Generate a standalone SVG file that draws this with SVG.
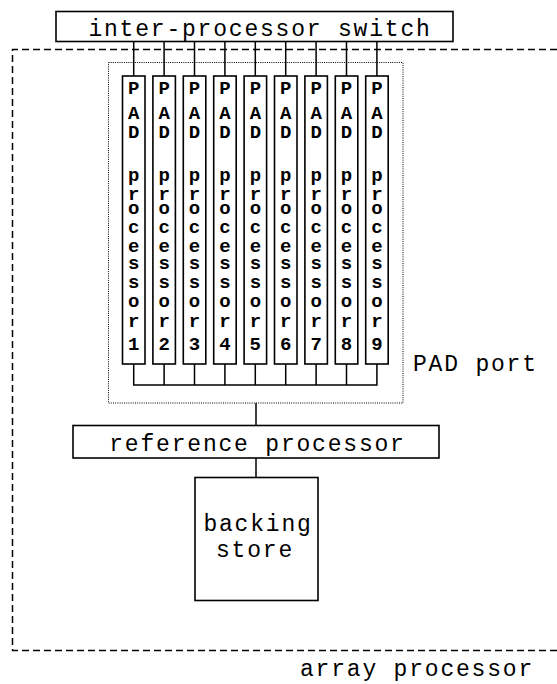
<svg xmlns="http://www.w3.org/2000/svg" width="557" height="684" viewBox="0 0 557 684">
  <style>
    .box { fill: #fff; stroke: #000; stroke-width: 1.6; }
    .wire { fill: none; stroke: #000; stroke-width: 1.5; }
    .frame { fill: none; stroke: #000; stroke-width: 1.5; stroke-dasharray: 7 4; }
    .port { fill: none; stroke: #000; stroke-width: 1; stroke-dasharray: 1 1.2; }
    .lbl { font-family: "Liberation Mono", "DejaVu Sans Mono", monospace; font-size: 23px; letter-spacing: 1.8px; fill: #000; }
    .col { font-family: "Liberation Mono", "DejaVu Sans Mono", monospace; font-size: 19px; font-weight: bold; fill: #000; text-anchor: middle; }
    .mid { text-anchor: middle; }
  </style>
  <defs>
    <!-- one PAD processor column, origin at its top-left corner -->
    <g id="padcol">
      <rect class="box" x="0" y="0" width="22.5" height="288"/>
      <text class="col" x="11.25" y="18">P</text>
      <text class="col" x="11.25" y="43">A</text>
      <text class="col" x="11.25" y="62">D</text>
      <text class="col" x="11.25" y="105">p</text>
      <text class="col" x="11.25" y="124">r</text>
      <text class="col" x="11.25" y="138">o</text>
      <text class="col" x="11.25" y="157">c</text>
      <text class="col" x="11.25" y="176">e</text>
      <text class="col" x="11.25" y="193">s</text>
      <text class="col" x="11.25" y="212">s</text>
      <text class="col" x="11.25" y="231">o</text>
      <text class="col" x="11.25" y="251">r</text>
    </g>
  </defs>

  <!-- array processor boundary (open on the right) -->
  <g id="array-processor">
    <path class="frame" d="M557 49.5 H12.5 V650.5 H557"/>
    <text class="lbl" x="300" y="676">array processor</text>
  </g>

  <!-- PAD port boundary -->
  <g id="pad-port">
    <rect class="port" x="108.5" y="62.5" width="294.5" height="340.5"/>
    <text class="lbl" x="413" y="371">PAD port</text>
  </g>

  <!-- connectors -->
  <g id="connectors">
    <path class="wire" d="M133.7 41.5 V76 M164.1 41.5 V76 M194.5 41.5 V76 M224.9 41.5 V76 M255.3 41.5 V76 M285.7 41.5 V76 M316.1 41.5 V76 M346.5 41.5 V76 M376.9 41.5 V76"/>
    <path class="wire" d="M133.7 364 V385 M164.1 364 V385 M194.5 364 V385 M224.9 364 V385 M255.3 364 V385 M285.7 364 V385 M316.1 364 V385 M346.5 364 V385 M376.9 364 V385 M133 385 H377.6"/>
    <path class="wire" d="M256 403 V425.5"/>
    <path class="wire" d="M256 458 V477.5"/>
  </g>

  <g id="switch">
    <rect class="box" x="56" y="11.5" width="397" height="30"/>
    <text class="lbl mid" x="260" y="36">inter-processor switch</text>
  </g>

  <g id="pad1"><use href="#padcol" x="122.5" y="76"/><text class="col" x="133.7" y="350">1</text></g>
  <g id="pad2"><use href="#padcol" x="152.9" y="76"/><text class="col" x="164.1" y="350">2</text></g>
  <g id="pad3"><use href="#padcol" x="183.3" y="76"/><text class="col" x="194.5" y="350">3</text></g>
  <g id="pad4"><use href="#padcol" x="213.7" y="76"/><text class="col" x="224.9" y="350">4</text></g>
  <g id="pad5"><use href="#padcol" x="244.1" y="76"/><text class="col" x="255.3" y="350">5</text></g>
  <g id="pad6"><use href="#padcol" x="274.5" y="76"/><text class="col" x="285.7" y="350">6</text></g>
  <g id="pad7"><use href="#padcol" x="304.9" y="76"/><text class="col" x="316.1" y="350">7</text></g>
  <g id="pad8"><use href="#padcol" x="335.3" y="76"/><text class="col" x="346.5" y="350">8</text></g>
  <g id="pad9"><use href="#padcol" x="365.7" y="76"/><text class="col" x="376.9" y="350">9</text></g>

  <g id="reference-processor">
    <rect class="box" x="73" y="425.5" width="366" height="32.5"/>
    <text class="lbl mid" x="257.5" y="451">reference processor</text>
  </g>

  <g id="backing-store">
    <rect class="box" x="195" y="477.5" width="123" height="123"/>
    <text class="lbl mid" x="258" y="531">backing</text>
    <text class="lbl mid" x="255" y="557">store</text>
  </g>
</svg>
